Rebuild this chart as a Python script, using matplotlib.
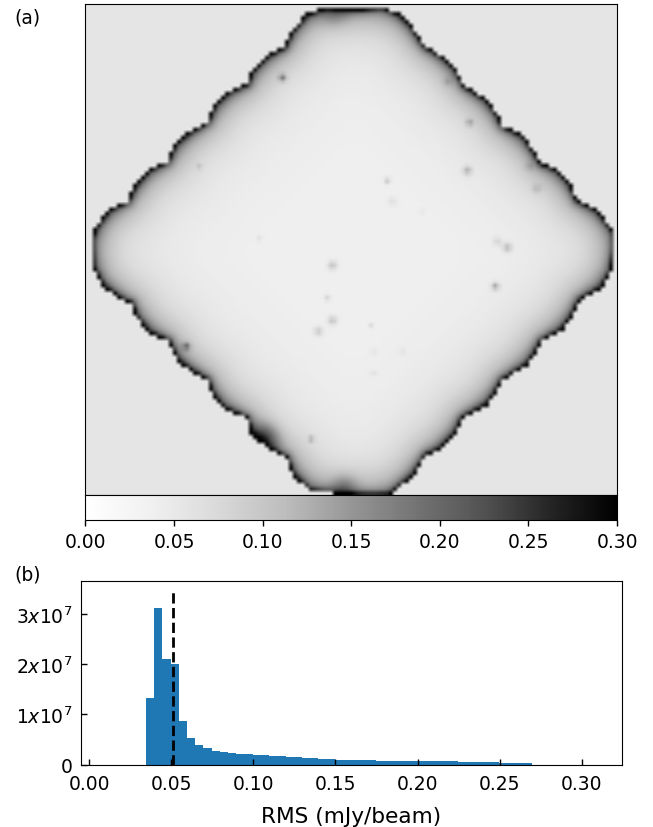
import numpy as np
import matplotlib
matplotlib.use("Agg")
import matplotlib.pyplot as plt
from matplotlib.path import Path

# ---- histogram data
hist_start = 0.035
hist_width = 0.005
hist_counts_1e7 = [1.325, 3.13, 2.10, 2.00, 0.868, 0.53, 0.39, 0.33, 0.278, 0.25,
                   0.22, 0.21, 0.20, 0.19, 0.185, 0.178, 0.172, 0.155, 0.14, 0.13,
                   0.12, 0.115, 0.105, 0.095, 0.093, 0.09, 0.09, 0.085, 0.075, 0.072,
                   0.07, 0.07, 0.068, 0.066, 0.066, 0.066, 0.066, 0.062, 0.05, 0.048,
                   0.046, 0.045, 0.044, 0.03, 0.028, 0.027, 0.025]
median_rms = 0.051
median_top = 3.5e7
x_ticks = [0.00, 0.05, 0.10, 0.15, 0.20, 0.25, 0.30]
y_ticks = [0, 1e7, 2e7, 3e7]
y_labels = ["0", r"1$x$10$^7$", r"2$x$10$^7$", r"3$x$10$^7$"]
cbar_ticks = [0.00, 0.05, 0.10, 0.15, 0.20, 0.25, 0.30]

# ---- map data: footprint outline, edge profile and sources
outline_x = [92, 97, 110, 128, 135, 150, 168, 175, 190, 208, 215, 230, 248, 252, 267, 285, 292, 307, 328,
             347, 363, 383, 400, 413, 422, 427, 443, 457, 465, 487, 497, 503, 525, 533, 542, 557, 570, 578,
             597, 611, 615, 615, 612, 602, 580, 573, 563, 542, 535, 528, 503, 495, 488, 463, 457, 440, 427,
             415, 397, 388, 357, 310, 293, 287, 267, 252, 247, 223, 212, 208, 190, 177, 169, 150, 137, 132,
             123, 103, 93]
outline_y = [240, 227, 210, 203, 187, 170, 163, 145, 133, 123, 105, 92, 85, 72, 57, 48, 32, 15, 8,
             10, 10, 8, 15, 27, 42, 48, 57, 70, 87, 100, 113, 127, 137, 150, 165, 170, 183, 202,
             210, 228, 235, 250, 273, 290, 302, 318, 332, 343, 357, 367, 382, 397, 407, 420, 435, 452, 457,
             477, 492, 497, 497, 493, 477, 460, 450, 437, 420, 410, 395, 382, 372, 362, 343, 335, 320, 305,
             302, 288, 268]
profile_dist = [0, 2, 4, 7, 11, 16, 22, 30, 40, 55, 80, 120]
profile_rms = [0.36, 0.27, 0.20, 0.155, 0.125, 0.105, 0.088, 0.072, 0.060, 0.050, 0.043, 0.039]
source_x = [283, 200, 260, 470, 468, 388, 393, 422, 498, 508, 448, 530, 537, 333, 496, 328, 333, 372, 374,
            374, 403, 319, 187, 312, 265, 345, 335]
source_y = [79, 168, 240, 124, 172, 182, 203, 213, 243, 249, 83, 168, 190, 267, 288, 300, 322, 327, 353,
            375, 353, 333, 348, 441, 440, 490, 12]
source_amp = [0.11, 0.04, 0.025, 0.07, 0.08, 0.07, 0.025, 0.04, 0.04, 0.08, 0.03, 0.03, 0.04, 0.07, 0.10, 0.05,
              0.07, 0.04, 0.025, 0.025, 0.025, 0.06, 0.10, 0.08, 0.10, 0.06, 0.05]
source_sig = [2.5, 2, 2, 2.5, 3, 2, 3, 1.5, 3, 3, 3, 3, 3, 3, 2.5, 2, 3, 1.5, 2, 2, 2, 3, 2.5, 2, 10, 9, 10]

W, H = 653, 828
fig = plt.figure(figsize=(W / 100, H / 100), dpi=100)
plt.rcParams["font.size"] = 13.5


def box(l, t, r, b):
    return [l / W, 1 - b / H, (r - l) / W, (b - t) / H]


# ---- build map
cell = 4.0
gx = np.arange(85.5 + cell / 2, 617, cell)
gy = np.arange(5 + cell / 2, 496, cell)
X, Y = np.meshgrid(gx, gy)
pts = np.column_stack([X.ravel(), Y.ravel()])
ox, oy = np.array(outline_x, float), np.array(outline_y, float)
inside = Path(np.column_stack([ox, oy])).contains_points(pts)
x1, y1 = np.roll(ox, -1), np.roll(oy, -1)
dx, dy = x1 - ox, y1 - oy
t = ((pts[:, 0, None] - ox) * dx + (pts[:, 1, None] - oy) * dy) / (dx * dx + dy * dy)
t = np.clip(t, 0, 1)
dist = np.hypot(pts[:, 0, None] - (ox + t * dx), pts[:, 1, None] - (oy + t * dy)).min(axis=1)
dist = np.where(inside, dist, -dist).reshape(X.shape)

# soften the scallops of the edge distance away from the boundary
kern = np.exp(-0.5 * (np.arange(-8, 9) / 3.5) ** 2)
kern /= kern.sum()
pad = np.pad(dist, 8, mode="edge")
blur = np.apply_along_axis(lambda v: np.convolve(v, kern, mode="same"), 0, pad)
blur = np.apply_along_axis(lambda v: np.convolve(v, kern, mode="same"), 1, blur)[8:-8, 8:-8]
weight = np.clip(dist / 14.0, 0, 1)
deff = np.clip((1 - weight) * dist + weight * blur, 0, None)
rms = np.interp(deff.ravel(), profile_dist, profile_rms)
for sx, sy, a, s in zip(source_x, source_y, source_amp, source_sig):
    rms += a * np.exp(-((pts[:, 0] - sx) ** 2 + (pts[:, 1] - sy) ** 2) / (2 * s * s))
rms = np.ma.masked_where(~inside, rms).reshape(X.shape)

# ---- panel (a)
ax = fig.add_axes(box(85.5, 5, 617, 496))
cmap = plt.get_cmap("Greys").copy()
cmap.set_bad((0, 0, 0, 0))
ax.set_facecolor("#e5e5e5")
im = ax.imshow(rms, cmap=cmap, vmin=0, vmax=0.3, extent=[85.5, 617, 496, 5], aspect="auto",
               interpolation="bilinear", interpolation_stage="rgba")
ax.set_xticks([])
ax.set_yticks([])

cax = fig.add_axes(box(85.5, 496, 617, 521))
cb = fig.colorbar(im, cax=cax, orientation="horizontal")
cb.set_ticks(cbar_ticks)
cb.set_ticklabels([f"{v:.2f}" for v in cbar_ticks])
cax.tick_params(labelsize=13.5, length=4.5, width=1, pad=4.5)

# ---- panel (b)
hax = fig.add_axes(box(81, 581.5, 622, 765.5))
lefts = hist_start + hist_width * np.arange(len(hist_counts_1e7))
hax.bar(lefts - 0.0004, np.array(hist_counts_1e7) * 1e7, width=hist_width, align="edge", color="#1f77b4")
hax.vlines(median_rms, 0, median_top, colors="k", linestyles="--", linewidth=2)
hax.set_xlim(-0.005, 0.3245)
hax.set_ylim(0, 3.67e7)
hax.set_xticks(x_ticks)
hax.set_xticklabels([f"{v:.2f}" for v in x_ticks])
hax.set_yticks(y_ticks)
hax.set_yticklabels(y_labels)
hax.tick_params(axis="x", direction="in", labelsize=13.5, length=4.5, width=1, pad=7)
hax.tick_params(axis="y", direction="in", labelsize=13.5, length=4.5, width=1, pad=6)
hax.set_xlabel("RMS (mJy/beam)", fontsize=15.6, labelpad=9)

fig.text(14 / W, 1 - 18 / H, "(a)", fontsize=13.5, va="center", ha="left")
fig.text(14 / W, 1 - 575 / H, "(b)", fontsize=13.5, va="center", ha="left")

fig.savefig("out.png", dpi=100)
